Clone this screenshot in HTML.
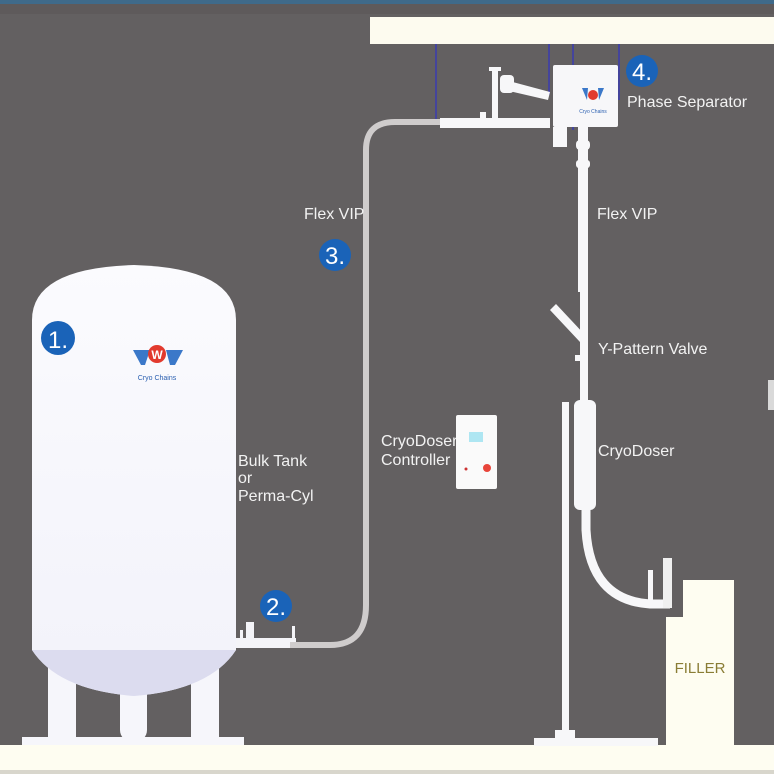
<!DOCTYPE html>
<html><head><meta charset="utf-8"><style>
html,body{margin:0;padding:0;background:#636061;}
svg{display:block}
text{font-family:"Liberation Sans",sans-serif;}
</style></head><body>
<svg width="774" height="774" viewBox="0 0 774 774" xmlns="http://www.w3.org/2000/svg">
<defs>
<linearGradient id="tk" x1="0" y1="0" x2="0" y2="1">
<stop offset="0" stop-color="#fbfbfe"/><stop offset="1" stop-color="#f2f2fa"/>
</linearGradient>
</defs>
<rect width="774" height="774" fill="#636061"/>
<rect x="0" y="0" width="774" height="4" fill="#3f6a8a"/>
<rect x="0" y="4" width="774" height="10" fill="#5e5a5b"/>
<rect x="370" y="17" width="404" height="27" fill="#fdfbef"/>
<g stroke="#3a3ab0" stroke-width="1.5">
<line x1="436" y1="44" x2="436" y2="122"/>
<line x1="549" y1="44" x2="549" y2="95"/>
<line x1="573" y1="44" x2="573" y2="130"/>
<line x1="619" y1="44" x2="619" y2="100"/>
</g>
<rect x="0" y="745" width="774" height="25" fill="#fefdf1"/>
<rect x="0" y="770" width="774" height="4" fill="#d8d6cc"/>
<g fill="#f6f6fb">
<rect x="48" y="650" width="28" height="92"/>
<rect x="120" y="660" width="27" height="82" rx="12"/>
<rect x="191" y="650" width="28" height="92"/>
<rect x="22" y="737" width="222" height="8"/>
</g>
<path d="M32 320 Q32 268 134 265 Q236 268 236 320 L236 650 Q210 690 134 696 Q58 690 32 650 Z" fill="url(#tk)"/>
<path d="M32 650 Q58 690 134 696 Q210 690 236 650 Z" fill="#dcdcef"/>
<circle cx="58" cy="338" r="17" fill="#1a63b8"/>
<text x="58" y="348" font-size="24" fill="#fff" text-anchor="middle">1.</text>
<path d="M133 350 L150 350 L145 365 L141 365 Z M166 350 L183 350 L175 365 L170 365 Z" fill="#3b78c9"/>
<circle cx="157" cy="354" r="9" fill="#e23a2e"/>
<text x="157" y="359" font-size="12" font-weight="bold" fill="#fff" text-anchor="middle">W</text>
<text x="157" y="380" font-size="7" fill="#2a5fb0" text-anchor="middle">Cryo Chains</text>
<rect x="236" y="638" width="60" height="10" fill="#f4f4f8"/>
<rect x="246" y="622" width="8" height="16" fill="#f4f4f8"/>
<rect x="240" y="630" width="3" height="10" fill="#f4f4f8"/>
<rect x="292" y="626" width="3" height="14" fill="#f4f4f8"/>
<circle cx="276" cy="606" r="16" fill="#1a63b8"/>
<text x="276" y="615" font-size="24" fill="#fff" text-anchor="middle">2.</text>
<path d="M290 645 L330 645 Q366 645 366 605 L366 150 Q366 122 395 122 L442 122" fill="none" stroke="#cfcccc" stroke-width="6"/>
<circle cx="335" cy="255" r="16" fill="#1a63b8"/>
<text x="335" y="264" font-size="24" fill="#fff" text-anchor="middle">3.</text>
<text x="304" y="219" font-size="16" fill="#f2f2f2">Flex VIP</text>
<text x="238" y="466" font-size="16" fill="#f2f2f2">Bulk Tank</text>
<text x="238" y="483" font-size="16" fill="#f2f2f2">or</text>
<text x="238" y="501" font-size="16" fill="#f2f2f2">Perma-Cyl</text>
<text x="381" y="446" font-size="16" fill="#f2f2f2">CryoDoser</text>
<text x="381" y="465" font-size="16" fill="#f2f2f2">Controller</text>
<rect x="456" y="415" width="41" height="74" rx="2" fill="#fafafa"/>
<rect x="469" y="432" width="14" height="10" fill="#aee6f2"/>
<circle cx="487" cy="468" r="4" fill="#e8453a"/>
<circle cx="466" cy="469" r="1.5" fill="#c33"/>
<g fill="#f7f7f9">
<rect x="440" y="118" width="110" height="10"/>
<rect x="492" y="70" width="6" height="52"/>
<rect x="489" y="67" width="12" height="4"/>
<polygon points="505,80 550,92 548,100 505,90"/>
<rect x="500" y="75" width="14" height="18" rx="4"/>
<rect x="480" y="112" width="6" height="14"/>
<rect x="553" y="65" width="65" height="62" rx="2"/>
<rect x="553" y="127" width="14" height="20"/>
<rect x="578" y="127" width="10" height="165"/>
<rect x="576" y="140" width="14" height="10" rx="4"/>
<rect x="576" y="160" width="14" height="8" rx="3"/>
</g>
<path d="M582 88 L588 88 L587 100 Z M598 88 L604 88 L599 100 Z" fill="#3b78c9"/>
<circle cx="593" cy="95" r="5" fill="#e23a2e"/>
<text x="593" y="113" font-size="5" fill="#2a5fb0" text-anchor="middle">Cryo Chains</text>
<circle cx="642" cy="71" r="16" fill="#1a63b8"/>
<text x="642" y="80" font-size="24" fill="#fff" text-anchor="middle">4.</text>
<text x="627" y="107" font-size="16" fill="#f2f2f2">Phase Separator</text>
<text x="597" y="219" font-size="16" fill="#f2f2f2">Flex VIP</text>
<g fill="#f7f7f9">
<rect x="580" y="285" width="8" height="120"/>
<polygon points="550,310 556,304 585,335 580,342"/>
<rect x="575" y="355" width="7" height="6"/>
<rect x="574" y="400" width="22" height="110" rx="6"/>
<rect x="562" y="402" width="7" height="335"/>
<rect x="555" y="730" width="20" height="10"/>
<rect x="534" y="738" width="124" height="8"/>
</g>
<text x="598" y="354" font-size="16" fill="#f2f2f2">Y-Pattern Valve</text>
<text x="598" y="456" font-size="16" fill="#f2f2f2">CryoDoser</text>
<path d="M586 508 L586 530 Q590 600 650 604 L670 604" fill="none" stroke="#f7f7f9" stroke-width="9"/>
<rect x="648" y="570" width="5" height="32" fill="#f7f7f9"/>
<rect x="663" y="558" width="9" height="50" fill="#f0f0f0"/>
<rect x="683" y="580" width="51" height="165" fill="#fefdf1"/>
<rect x="666" y="617" width="20" height="128" fill="#fefdf1"/>
<text x="700" y="673" font-size="15" fill="#8a7d35" text-anchor="middle">FILLER</text>
<rect x="768" y="380" width="6" height="30" fill="#d9d9d9"/>
</svg>
</body></html>
